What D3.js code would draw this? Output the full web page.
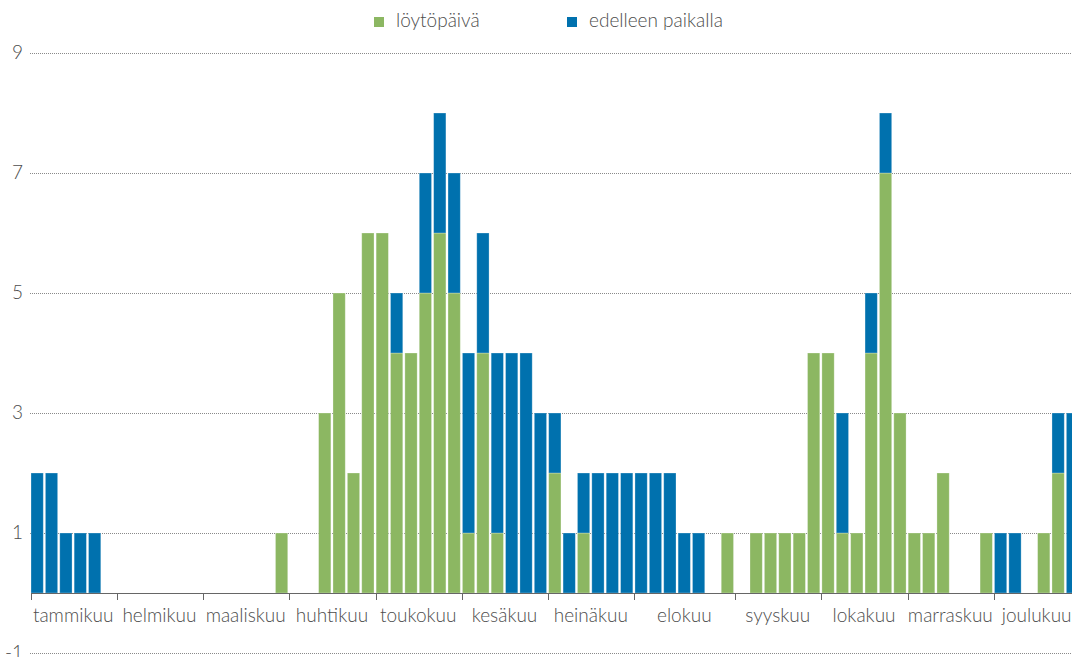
<!DOCTYPE html>
<html>
<head>
<meta charset="utf-8">
<script src="https://cdn.jsdelivr.net/npm/d3@7"></script>
<style>
  body { margin: 0; background: #fff; }
  svg { display: block; font-family: Lato, "Open Sans", sans-serif; font-weight: 300; }
</style>
</head>
<body>
<div id="app"></div>
<script>
"use strict";

// months and how many bars (periods) each one has
const months = ["tammikuu", "helmikuu", "maaliskuu", "huhtikuu", "toukokuu", "kesäkuu",
  "heinäkuu", "elokuu", "syyskuu", "lokakuu", "marraskuu", "joulukuu"];
const barsPerMonth = [6, 6, 6, 6, 6, 6, 6, 7, 6, 6, 6, 6];

const seriesNames = ["löytöpäivä", "edelleen paikalla"];
const seriesColors = ["#8cb762", "#0071ae"];

const loytopaiva = [
  0, 0, 0, 0, 0, 0,
  0, 0, 0, 0, 0, 0,
  0, 0, 0, 0, 0, 1,
  0, 0, 3, 5, 2, 6,
  6, 4, 4, 5, 6, 5,
  1, 4, 1, 0, 0, 0,
  2, 0, 1, 0, 0, 0,
  0, 0, 0, 0, 0, 0, 1,
  0, 1, 1, 1, 1, 4,
  4, 1, 1, 4, 7, 3,
  1, 1, 2, 0, 0, 1,
  0, 0, 0, 1, 2, 0
];
const edelleen = [
  2, 2, 1, 1, 1, 0,
  0, 0, 0, 0, 0, 0,
  0, 0, 0, 0, 0, 0,
  0, 0, 0, 0, 0, 0,
  0, 1, 0, 2, 2, 2,
  3, 2, 3, 4, 4, 3,
  1, 1, 1, 2, 2, 2,
  2, 2, 2, 1, 1, 0, 0,
  0, 0, 0, 0, 0, 0,
  0, 2, 0, 1, 1, 0,
  0, 0, 0, 0, 0, 0,
  1, 1, 0, 0, 1, 3
];

const yTicks = [-1, 1, 3, 5, 7, 9];

class Chart {
  constructor() {
    this._width = 1072;
    this._height = 657;
    this._left = 31;
    this._step = 14.38;
    this._n = loytopaiva.length;
    this._font = 19;
    this._ink = "#4d4d4d";

    this._svg = d3.select("#app")
      .append("svg")
      .attr("width", this._width)
      .attr("height", this._height);

    this._x = d3.scaleBand()
      .domain(d3.range(this._n))
      .range([this._left, this._left + this._n * this._step])
      .paddingInner(0)
      .paddingOuter(0);
    this._y = d3.scaleLinear().domain([-1, 9]).range([653, 53]);

    this._initGrid();
    this._initBars();
    this._initAxis();
    this._initLegend();
  }

  _initGrid() {
    const g = this._svg.append("g");
    g.selectAll("line")
      .data(yTicks)
      .join("line")
      .attr("x1", 30)
      .attr("x2", this._width)
      .attr("y1", d => this._y(d) + 0.5)
      .attr("y2", d => this._y(d) + 0.5)
      .attr("stroke", "#8a8a8a")
      .attr("stroke-width", 1)
      .attr("stroke-dasharray", "1,1");
    g.selectAll("text")
      .data(yTicks)
      .join("text")
      .attr("x", 23)
      .attr("y", d => this._y(d) + 6)
      .attr("text-anchor", "end")
      .attr("font-size", this._font)
      .attr("fill", this._ink)
      .text(d => d);
  }

  _initBars() {
    const rows = d3.range(this._n).map(i => ({
      i: i, "löytöpäivä": loytopaiva[i], "edelleen paikalla": edelleen[i]
    }));
    const stacked = d3.stack().keys(seriesNames)(rows);
    const w = this._step - 2.1;
    this._svg.append("g")
      .selectAll("g")
      .data(stacked)
      .join("g")
      .attr("fill", (d, k) => seriesColors[k])
      .selectAll("rect")
      .data(d => d.filter(p => p[1] > p[0]))
      .join("rect")
      .attr("x", d => this._x(d.data.i))
      .attr("width", w)
      .attr("y", d => this._y(d[1]))
      .attr("height", d => this._y(d[0]) - this._y(d[1]))
      .attr("stroke", "rgba(255,255,255,0.35)")
      .attr("stroke-width", 0.8);
  }

  _initAxis() {
    const y0 = this._y(0);
    const g = this._svg.append("g");
    g.append("line")
      .attr("x1", this._left)
      .attr("x2", this._width)
      .attr("y1", y0 + 0.5)
      .attr("y2", y0 + 0.5)
      .attr("stroke", "#666");

    // month boundaries, in bar index
    const starts = [];
    let acc = 0;
    for (let k = 0; k < barsPerMonth.length; k++) {
      starts.push(acc);
      acc += barsPerMonth[k];
    }
    g.selectAll(".tick")
      .data(starts)
      .join("line")
      .attr("class", "tick")
      .attr("x1", d => Math.round(this._x(d) - 0.5) + 0.5)
      .attr("x2", d => Math.round(this._x(d) - 0.5) + 0.5)
      .attr("y1", y0)
      .attr("y2", y0 + 7)
      .attr("stroke", "#666");
    g.selectAll(".lbl")
      .data(months)
      .join("text")
      .attr("class", "lbl")
      .attr("x", (d, k) => this._x(starts[k]) + barsPerMonth[k] * this._step / 2 - 1)
      .attr("y", 622)
      .attr("text-anchor", "middle")
      .attr("font-size", this._font)
      .attr("fill", this._ink)
      .text(d => d);
  }

  _initLegend() {
    const items = [{ x: 374, name: seriesNames[0], color: seriesColors[0] },
      { x: 567, name: seriesNames[1], color: seriesColors[1] }];
    const g = this._svg.append("g")
      .selectAll("g")
      .data(items)
      .join("g");
    g.append("rect")
      .attr("x", d => d.x)
      .attr("y", 17)
      .attr("width", 10)
      .attr("height", 10)
      .attr("fill", d => d.color);
    g.append("text")
      .attr("x", d => d.x + 22)
      .attr("y", 27)
      .attr("font-size", this._font)
      .attr("fill", this._ink)
      .text(d => d.name);
  }
}

new Chart();
</script>
</body>
</html>
